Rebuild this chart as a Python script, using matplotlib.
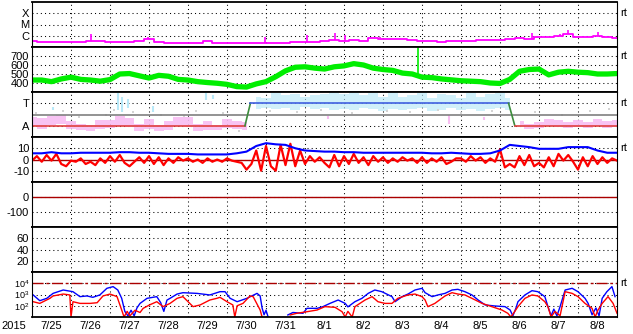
import numpy as np
import matplotlib
matplotlib.use("Agg")
import matplotlib.pyplot as plt
import matplotlib.transforms as mtransforms
from matplotlib.ticker import NullLocator

plt.rcParams['font.family'] = ['Liberation Sans', 'DejaVu Sans']
plt.rcParams['mathtext.fontset'] = 'custom'
plt.rcParams['mathtext.rm'] = 'Liberation Sans'

nan = np.nan

# days since 2015-07-25 00:00
day_labels = ['7/25', '7/26', '7/27', '7/28', '7/29', '7/30', '7/31', '8/1',
              '8/2', '8/3', '8/4', '8/5', '8/6', '8/7', '8/8']
t4 = np.arange(0, 15.01, 0.25)
t8 = np.arange(0, 15.001, 0.125)

# X-ray flux (log10 W/m2)
xray_log = [-6.50, -6.55, -6.58, -6.57, -6.55, -6.52, -6.45, -6.50,
            -6.58, -6.55, -6.57, -6.50, -6.30, -6.55, -6.60, -6.60,
            -6.62, -6.62, -6.45, -6.62, -6.62, -6.62, -6.60, -6.62,
            -6.60, -6.62, -6.60, -6.55, -6.55, -6.55, -6.50, -6.40,
            -6.45, -6.40, -6.45, -6.20, -6.30, -6.30, -6.32, -6.35,
            -6.50, -6.50, -6.52, -6.50, -6.50, -6.45, -6.40, -6.40,
            -6.35, -6.30, -6.20, -6.25, -6.10, -6.10, -6.00, -5.85,
            -6.10, -6.10, -6.00, -6.15, -6.20]
flare_t = [1.52, 2.98, 5.97, 7.05, 7.77, 8.03, 8.92, 12.82, 13.54, 13.74, 14.51]
flare_base = [-6.45, -6.30, -6.62, -6.55, -6.40, -6.45, -6.20, -6.25, -6.00, -5.85, -6.00]
flare_peak = [-5.84, -6.08, -6.14, -5.93, -5.78, -5.90, -6.10, -5.75, -5.80, -5.50, -5.70]

# solar wind speed (km/s)
speed = [433, 433, 415, 445, 465, 440, 433, 420, 438, 500, 505, 480, 455,
         485, 475, 440, 433, 415, 405, 397, 385, 360, 355, 390, 415, 470,
         535, 575, 580, 565, 555, 580, 590, 615, 600, 565, 550, 540, 510,
         500, 465, 460, 445, 435, 425, 420, 415, 400, 395, 440, 530, 550,
         555, 490, 520, 530, 520, 515, 500, 500, 505]
speed_spike_t = 9.9
speed_spike = [500, 800]

# T / A class
class_t = [0, 5.46, 5.6, 12.22, 12.38, 15]
class_v = [1, 1, 3, 3, 1, 1]
pink_lo = [1.0, 0.7, 1.1, 1.2, 0.7, 0.6, 0.5, 0.7, 0.8, 1.0, 0.9, 0.5,
           0.7, 0.5, 0.6, 1.0, 0.9, 0.5, 0.6, 0.6, 0.8, 0.7, 0.6] + [nan] * 27 + \
          [0.9, 0.7, 0.8, 1.0, 0.9, 0.8, 0.9, 0.8, 1.0, 0.8, 0.9]
pink_hi = [1.8, 1.7, 1.9, 2.0, 1.4, 1.2, 1.1, 1.5, 1.5, 1.9, 1.7, 1.2,
           1.6, 1.1, 1.4, 1.8, 1.8, 1.2, 1.4, 1.1, 1.6, 1.4, 1.3] + [nan] * 27 + \
          [1.4, 1.2, 1.3, 1.6, 1.5, 1.3, 1.5, 1.3, 1.6, 1.4, 1.5]
cyan_lo = [nan] * 23 + [2.5, 2.6, 2.5, 2.6, 2.4, 2.7, 2.5, 2.6, 2.4, 2.5,
                        2.4, 2.6, 2.5, 2.3, 2.5, 2.4, 2.5, 2.6, 2.3, 2.4,
                        2.6, 2.4, 2.5, 2.3, 2.5, 2.6, 2.4] + [nan] * 11
cyan_hi = [nan] * 23 + [3.6, 3.5, 3.9, 3.7, 3.8, 3.6, 3.7, 3.8, 4.0, 3.8,
                        3.9, 3.7, 3.9, 3.6, 4.0, 3.6, 3.7, 3.9, 3.5, 3.8,
                        3.7, 3.5, 3.9, 3.6, 3.8, 3.9, 3.5] + [nan] * 11
cyan_ex_t = [0.55, 2.2, 2.3, 2.45, 3.1, 4.45, 4.65]
cyan_ex_lo = [2.4, 2.4, 2.2, 2.6, 2.2, 3.3, 3.4]
cyan_ex_hi = [2.7, 3.9, 3.6, 3.4, 2.8, 3.9, 3.7]
pink_ex_t = [7.6, 10.68, 11.6]
pink_ex_lo = [1.6, 1.2, 1.5]
pink_ex_hi = [1.9, 1.95, 1.8]
gray_t = [0.1, 0.8, 1.2, 1.9, 2.1, 2.6, 3.3, 3.9, 4.2, 4.9, 5.3, 6.1, 6.8,
          7.4, 8.2, 9.1, 9.7, 10.4, 11.0, 11.8, 12.9, 13.6, 14.3, 14.8]
gray_v = [2.1, 2.3, 1.8, 2.0, 2.4, 2.2, 2.0, 1.9, 2.3, 2.1, 0.5, 2.3, 2.2,
          2.4, 2.1, 2.3, 2.2, 2.4, 2.1, 2.3, 2.2, 2.0, 2.3, 2.5]

# IMF (nT)
bt = [5.5, 5.5, 6.5, 5.5, 5.5, 6, 6, 6, 6, 6.5, 6.5, 6, 6, 5.5, 5, 5, 5,
      4.5, 4.5, 4.5, 4.5, 5.5, 7, 12, 14.5, 13.5, 13, 10, 8, 7.5, 7, 7,
      6.5, 6.5, 6, 6, 6, 6, 6, 6, 6, 5.5, 5.5, 6, 5.5, 5, 5, 5.5, 8, 13,
      12, 11, 9.5, 9.5, 9.5, 11, 11, 11, 8, 6, 6]
bz = [-1, 3, -2, 4, -1, 5, -4, -6,
      -1, -2, 1, -4, -2, -5, 1, -3,
      3, -2, 4, -3, -6, -2, 2, -3,
      3, -4, 2, -5, 1, -3, 2, -1,
      1, -2, 0, -3, 1, -2, 0, -2,
      1, -1, -2, -3, -9, -4, 8, -10,
      12, -6, -10, 13, -5, 14, -6, 8,
      -4, 3, -2, 2, -3, -7, 4, -6,
      3, -4, 5, -3, 2, -5, 3, -2,
      2, -3, 1, -2, 2, -1, 1, -3,
      2, -3, 1, -2, 2, -4, -2, 1,
      1, -2, 3, -1, 2, -3, 1, -2,
      9, -7, -4, -7, 3, -5, 4, -6,
      -3, -7, 2, -6, 5, -1, 4, -2,
      -9, 2, -6, 3, -4, 2, -3, 1,
      -1]

# electron flux (log10)
eb_t = [0.03, 0.2, 0.38, 0.54, 0.8, 1.05, 1.23, 1.41, 1.56, 1.74, 1.92, 2.08,
        2.2, 2.3, 2.38, 2.46, 2.54, 2.62, 2.69, 2.77, 2.95, 3.2, 3.3, 3.38,
        3.46, 3.54, 3.72, 3.87, 4.23, 4.56, 4.74, 4.82, 4.95, 5.08, 5.26,
        5.51, 5.77, 5.85, 5.9, 5.95, 6.0, 6.05, 6.3, 6.56, 6.69, 6.95, 7.05,
        7.31, 7.46, 7.64, 7.85, 8.03, 8.1, 8.28, 8.46, 8.62, 8.79, 8.97,
        9.23, 9.31, 9.49, 9.64, 9.82, 10.0, 10.08, 10.26, 10.41, 10.59,
        10.77, 10.92, 11.1, 11.28, 11.44, 11.62, 11.87, 12.13, 12.26, 12.33,
        12.41, 12.46, 12.64, 12.82, 12.97, 13.15, 13.23, 13.31, 13.38, 13.46,
        13.54, 13.67, 13.85, 14.0, 14.18, 14.26, 14.36, 14.46, 14.54, 14.62,
        14.74, 14.87, 14.95]
eb_log = [2.96, 2.45, 2.66, 3.10, 3.40, 3.25, 2.81, 2.87, 2.75, 2.96, 3.55,
          3.70, 3.40, 2.66, 1.5, 1.1, 1.6, 1.1, 1.8, 2.21, 2.66, 2.81, 2.27,
          1.5, 2.5, 2.66, 3.04, 3.16, 3.10, 2.96, 3.16, 3.25, 3.25, 2.66,
          2.36, 2.66, 3.10, 2.87, 1.8, 1.2, 1.6, 1.05, nan, 1.18, 1.40, 1.33,
          1.77, 1.77, 1.92, 2.21, 2.51, 2.21, 1.9, 2.36, 2.66, 3.10, 3.40,
          3.25, 2.81, 2.36, 2.81, 3.04, 3.40, 3.55, 3.16, 2.81, 2.96, 3.10,
          3.40, 3.46, 3.25, 2.96, 2.51, 2.07, 1.98, 1.92, 1.62, 1.1, 1.8,
          2.36, 2.96, 3.34, 3.25, 2.81, 1.92, 1.1, 1.7, 1.1, 1.92, 3.40,
          3.55, 3.25, 2.66, 2.21, 1.2, 1.8, 1.1, 2.66, 3.25, 3.70, 2.81]
er_t = [0.03, 0.2, 0.46, 0.54, 0.8, 0.97, 1.0, 1.05, 1.23, 1.49, 1.67, 1.82,
        2.0, 2.18, 2.3, 2.36, 2.44, 2.51, 2.64, 2.77, 2.85, 3.03, 3.2, 3.36,
        3.54, 3.72, 3.87, 4.13, 4.31, 4.56, 4.74, 4.82, 5.0, 5.15, 5.2, 5.26,
        5.41, 5.59, 5.67, 5.85, 5.9, 6.2, 6.62, 6.79, 7.05, 7.31, 7.51, 7.77,
        7.95, 8.03, 8.1, 8.21, 8.28, 8.54, 8.72, 8.87, 9.05, 9.23, 9.38,
        9.64, 9.82, 10.0, 10.08, 10.15, 10.33, 10.59, 10.77, 10.92, 11.1,
        11.28, 11.54, 11.79, 12.05, 12.2, 12.28, 12.38, 12.46, 12.64, 12.82,
        12.97, 13.15, 13.23, 13.31, 13.41, 13.54, 13.67, 13.85, 14.0, 14.18,
        14.36, 14.44, 14.51, 14.62, 14.77, 14.9, 15.0]
er_log = [2.36, 2.21, 2.66, 2.87, 3.04, 2.96, 1.0, 2.36, 2.21, 2.21, 2.27,
          2.87, 3.04, 2.81, 1.62, 1.0, 1.5, 1.1, 1.6, 1.4, 1.77, 2.1, 2.36,
          1.92, 2.21, 2.66, 2.81, 1.92, 2.07, 2.51, 2.66, 2.75, 2.36, 2.07,
          1.0, 2.0, 2.21, 2.87, 2.81, 1.62, 1.0, nan, 1.18, 1.33, 1.47, 1.62,
          1.92, 1.86, 1.47, 1.0, 1.5, 1.0, 1.92, 2.51, 2.81, 2.36, 2.21,
          2.21, 2.66, 2.96, 3.04, 2.81, 2.51, 1.92, 2.21, 2.87, 3.16, 3.04,
          2.96, 2.66, 2.21, 1.92, 1.62, 1.33, 1.0, 1.5, 1.92, 2.66, 2.96,
          2.87, 2.36, 1.92, 1.0, 1.5, 1.1, 3.25, 3.10, 2.81, 2.21, 1.77,
          1.0, 1.6, 2.21, 2.81, 2.21, 1.33]

W, H = 633, 334
fig = plt.figure(figsize=(W / 100, H / 100), dpi=100)
dot = (0, (1, 3))
axes = []
for i in range(7):
    top = 2 + 45 * i
    ax = fig.add_axes([32 / W, 1 - (top + 45) / H, 585 / W, 45 / H])
    ax.set_xlim(0, 15)
    ax.set_xticks(range(1, 15))
    ax.set_xticklabels([])
    ax.tick_params(which='both', length=0, labelsize=8, pad=2)
    ax.grid(True, which='major', ls=dot, lw=0.75, color='k')
    ax.set_axisbelow(True)
    for s in ['top', 'bottom']:
        ax.spines[s].set_linewidth(1.3)
    for s in ['left', 'right']:
        ax.spines[s].set_linewidth(0.8)
    axes.append(ax)

def rt(ax, y):
    tr = mtransforms.blended_transform_factory(ax.transAxes, ax.transData)
    ax.text(1.006, y, 'rt', transform=tr, fontsize=8, va='center', ha='left')

# panel 1: x-ray
ax = axes[0]
ax.set_yscale('log')
ax.set_ylim(1e-7, 1e-3)
ax.plot(t4, 10 ** np.array(xray_log), color='#ff00ff', lw=1.3, drawstyle='steps-mid')
ax.vlines(flare_t, 10 ** np.array(flare_base), 10 ** np.array(flare_peak),
          color='#ff00ff', lw=1.2)
ax.set_yticks([1e-4, 1e-5, 1e-6])
ax.set_yticklabels(['X', 'M', 'C'])
ax.yaxis.set_minor_locator(NullLocator())
rt(ax, 1e-4)

# panel 2: speed
ax = axes[1]
ax.set_ylim(300, 800)
ax.plot(t4, speed, color='#00ee00', lw=3.8)
ax.vlines(speed_spike_t, speed_spike[0], speed_spike[1], color='#00ee00', lw=1.2)
ax.set_yticks([700, 600, 500, 400])
rt(ax, 700)

# panel 3: T / A
ax = axes[2]
ax.set_ylim(0, 4)
ax.fill_between(t4, pink_lo, pink_hi, step='mid', color='#f8bdf2', alpha=0.9, lw=0)
ax.fill_between(t4, cyan_lo, cyan_hi, step='mid', color='#b8e8f8', alpha=0.65, lw=0)
ax.vlines(cyan_ex_t, cyan_ex_lo, cyan_ex_hi, color='#b8e8f8', lw=1.5)
ax.vlines(pink_ex_t, pink_ex_lo, pink_ex_hi, color='#f8bdf2', lw=1.5)
ax.plot(gray_t, gray_v, 's', color='#d4d4d4', ms=2, mew=0)
ax.axhline(2, color='#808080', lw=1.2)
for k in range(len(class_t) - 1):
    v0, v1 = class_v[k], class_v[k + 1]
    c = '#3c8c3c' if v0 != v1 else ('#e04040' if v0 == 1 else '#4060e0')
    ax.plot(class_t[k:k + 2], class_v[k:k + 2], color=c, lw=1.2)
ax.set_yticks([3, 1])
ax.set_yticklabels(['T', 'A'])
rt(ax, 3)

# panel 4: IMF
ax = axes[3]
ax.set_ylim(-20, 20)
ax.axhline(0, color='#aa0000', lw=1)
ax.plot(t8, bz, color='#ff0000', lw=1.6)
ax.plot(t4, bt, color='#0000ff', lw=1.5)
ax.set_yticks([10, 0, -10])
ax.set_yticklabels(['10', '0', '-10'])
rt(ax, 10)

# panel 5: Dst (no data)
ax = axes[4]
ax.set_ylim(-200, 100)
ax.axhline(0, color='#aa0000', lw=1)
ax.set_yticks([0, -100])
ax.set_yticklabels(['0', '-100'])

# panel 6: (no data)
ax = axes[5]
ax.set_ylim(0, 80)
ax.set_yticks([60, 40, 20])

# panel 7: electrons
ax = axes[6]
ax.set_yscale('log')
ax.set_ylim(1e1, 1e5)
ax.axhline(1e4, color='#aa0000', lw=1, dashes=(8, 2, 2, 2))
ax.plot(eb_t, 10 ** np.array(eb_log), color='#0000ff', lw=1)
ax.plot(er_t, 10 ** np.array(er_log), color='#ff0000', lw=1)
ax.set_yticks([1e4, 1e3, 1e2])
ax.set_yticklabels([r'$\mathregular{10^4}$', r'$\mathregular{10^3}$', r'$\mathregular{10^2}$'])
ax.tick_params(axis='y', labelsize=6.5)
ax.yaxis.set_minor_locator(NullLocator())
rt(ax, 1e4)

ax.set_xticks(np.arange(0.5, 15, 1), minor=True)
ax.set_xticklabels(day_labels, minor=True)
ax.tick_params(axis='x', which='minor', labelsize=8, pad=3)
fig.text(1 / W, 1 - 326 / H, '2015', fontsize=8, va='center', ha='left')

fig.savefig('out.png', dpi=100)
